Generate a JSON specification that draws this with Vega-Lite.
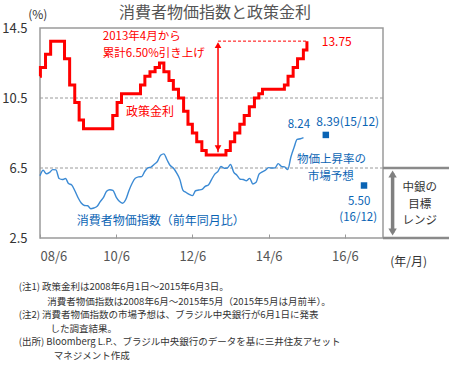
{
  "$schema": "https://vega.github.io/schema/vega-lite/v6.json",
  "width": 343,
  "height": 210,
  "autosize": {"type": "none"},
  "padding": {"left": 40, "top": 28, "right": 66, "bottom": 128},
  "background": "white",
  "config": {
    "view": {"stroke": "#9a9a9a", "strokeWidth": 1.5},
    "font": "Noto Sans CJK JP",
    "text": {"font": "Noto Sans CJK JP"}
  },
  "datasets": {
    "selic": [
      {"date": "2008-06-01", "rate": 11.75},
      {"date": "2008-06-05", "rate": 12.25},
      {"date": "2008-07-24", "rate": 13.0},
      {"date": "2008-09-11", "rate": 13.75},
      {"date": "2009-01-22", "rate": 12.75},
      {"date": "2009-03-12", "rate": 11.25},
      {"date": "2009-04-30", "rate": 10.25},
      {"date": "2009-06-11", "rate": 9.25},
      {"date": "2009-07-23", "rate": 8.75},
      {"date": "2010-04-29", "rate": 9.5},
      {"date": "2010-06-10", "rate": 10.25},
      {"date": "2010-07-22", "rate": 10.75},
      {"date": "2011-01-20", "rate": 11.25},
      {"date": "2011-03-03", "rate": 11.75},
      {"date": "2011-04-21", "rate": 12.0},
      {"date": "2011-06-09", "rate": 12.25},
      {"date": "2011-07-21", "rate": 12.5},
      {"date": "2011-09-01", "rate": 12.0},
      {"date": "2011-10-20", "rate": 11.5},
      {"date": "2011-12-01", "rate": 11.0},
      {"date": "2012-01-19", "rate": 10.5},
      {"date": "2012-03-08", "rate": 9.75},
      {"date": "2012-04-19", "rate": 9.0},
      {"date": "2012-05-31", "rate": 8.5},
      {"date": "2012-07-12", "rate": 8.0},
      {"date": "2012-08-30", "rate": 7.5},
      {"date": "2012-10-11", "rate": 7.25},
      {"date": "2013-04-18", "rate": 7.5},
      {"date": "2013-05-30", "rate": 8.0},
      {"date": "2013-07-11", "rate": 8.5},
      {"date": "2013-08-29", "rate": 9.0},
      {"date": "2013-10-10", "rate": 9.5},
      {"date": "2013-11-28", "rate": 10.0},
      {"date": "2014-01-16", "rate": 10.5},
      {"date": "2014-02-27", "rate": 10.75},
      {"date": "2014-04-03", "rate": 11.0},
      {"date": "2014-10-30", "rate": 11.25},
      {"date": "2014-12-04", "rate": 11.75},
      {"date": "2015-01-22", "rate": 12.25},
      {"date": "2015-03-05", "rate": 12.75},
      {"date": "2015-04-30", "rate": 13.25},
      {"date": "2015-06-03", "rate": 13.75}
    ],
    "cpi": [
      {"date": "2008-06-01", "v": 6.06}, {"date": "2008-07-01", "v": 6.37}, {"date": "2008-08-01", "v": 6.17}, {"date": "2008-09-01", "v": 6.25}, {"date": "2008-10-01", "v": 6.41}, {"date": "2008-11-01", "v": 6.39}, {"date": "2008-12-01", "v": 5.90},
      {"date": "2009-01-01", "v": 5.84}, {"date": "2009-02-01", "v": 5.90}, {"date": "2009-03-01", "v": 5.61}, {"date": "2009-04-01", "v": 5.53}, {"date": "2009-05-01", "v": 5.20}, {"date": "2009-06-01", "v": 4.80}, {"date": "2009-07-01", "v": 4.50}, {"date": "2009-08-01", "v": 4.36}, {"date": "2009-09-01", "v": 4.34}, {"date": "2009-10-01", "v": 4.17}, {"date": "2009-11-01", "v": 4.22}, {"date": "2009-12-01", "v": 4.31},
      {"date": "2010-01-01", "v": 4.59}, {"date": "2010-02-01", "v": 4.83}, {"date": "2010-03-01", "v": 5.17}, {"date": "2010-04-01", "v": 5.26}, {"date": "2010-05-01", "v": 5.22}, {"date": "2010-06-01", "v": 4.84}, {"date": "2010-07-01", "v": 4.60}, {"date": "2010-08-01", "v": 4.49}, {"date": "2010-09-01", "v": 4.70}, {"date": "2010-10-01", "v": 5.20}, {"date": "2010-11-01", "v": 5.63}, {"date": "2010-12-01", "v": 5.91},
      {"date": "2011-01-01", "v": 5.99}, {"date": "2011-02-01", "v": 6.01}, {"date": "2011-03-01", "v": 6.30}, {"date": "2011-04-01", "v": 6.51}, {"date": "2011-05-01", "v": 6.55}, {"date": "2011-06-01", "v": 6.71}, {"date": "2011-07-01", "v": 6.87}, {"date": "2011-08-01", "v": 7.23}, {"date": "2011-09-01", "v": 7.31}, {"date": "2011-10-01", "v": 6.97}, {"date": "2011-11-01", "v": 6.64}, {"date": "2011-12-01", "v": 6.50},
      {"date": "2012-01-01", "v": 6.22}, {"date": "2012-02-01", "v": 5.85}, {"date": "2012-03-01", "v": 5.24}, {"date": "2012-04-01", "v": 5.10}, {"date": "2012-05-01", "v": 4.99}, {"date": "2012-06-01", "v": 4.92}, {"date": "2012-07-01", "v": 5.20}, {"date": "2012-08-01", "v": 5.24}, {"date": "2012-09-01", "v": 5.28}, {"date": "2012-10-01", "v": 5.45}, {"date": "2012-11-01", "v": 5.53}, {"date": "2012-12-01", "v": 5.84},
      {"date": "2013-01-01", "v": 6.15}, {"date": "2013-02-01", "v": 6.31}, {"date": "2013-03-01", "v": 6.59}, {"date": "2013-04-01", "v": 6.49}, {"date": "2013-05-01", "v": 6.50}, {"date": "2013-06-01", "v": 6.70}, {"date": "2013-07-01", "v": 6.27}, {"date": "2013-08-01", "v": 6.09}, {"date": "2013-09-01", "v": 5.86}, {"date": "2013-10-01", "v": 5.84}, {"date": "2013-11-01", "v": 5.77}, {"date": "2013-12-01", "v": 5.91},
      {"date": "2014-01-01", "v": 5.59}, {"date": "2014-02-01", "v": 5.68}, {"date": "2014-03-01", "v": 6.15}, {"date": "2014-04-01", "v": 6.28}, {"date": "2014-05-01", "v": 6.37}, {"date": "2014-06-01", "v": 6.52}, {"date": "2014-07-01", "v": 6.50}, {"date": "2014-08-01", "v": 6.51}, {"date": "2014-09-01", "v": 6.75}, {"date": "2014-10-01", "v": 6.59}, {"date": "2014-11-01", "v": 6.56}, {"date": "2014-12-01", "v": 6.41},
      {"date": "2015-01-01", "v": 7.14}, {"date": "2015-02-01", "v": 7.70}, {"date": "2015-03-01", "v": 8.13}, {"date": "2015-04-01", "v": 8.17}, {"date": "2015-05-01", "v": 8.24}
    ]
  },
  "layer": [
    {
      "data": {"values": [{"v": 6.5}, {"v": 10.5}]},
      "mark": {"type": "rule", "color": "#9a9a9a", "strokeWidth": 1, "strokeDash": [3, 2]},
      "encoding": {
        "y": {"field": "v", "type": "quantitative", "scale": {"domain": [2.5, 14.5], "nice": false, "zero": false},
          "axis": {"values": [2.5, 6.5, 10.5, 14.5], "format": ".1f", "domain": false, "ticks": false, "grid": false, "title": null, "labelFontSize": 13, "labelColor": "#333333", "labelPadding": 13, "labelFont": "Noto Sans CJK JP"}}
      }
    },
    {
      "data": {"name": "cpi"},
      "mark": {"type": "line", "color": "#3b8ad4", "strokeWidth": 1.4, "interpolate": "monotone"},
      "encoding": {
        "x": {"field": "date", "type": "temporal",
          "scale": {"domain": [{"year": 2008, "month": 6, "date": 1}, {"year": 2017, "month": 6, "date": 1}], "nice": false},
          "axis": {"values": [{"year": 2008, "month": 6, "date": 1}, {"year": 2010, "month": 6, "date": 1}, {"year": 2012, "month": 6, "date": 1}, {"year": 2014, "month": 6, "date": 1}, {"year": 2016, "month": 6, "date": 1}],
            "format": "%y/%-m", "domain": false, "grid": false, "tickSize": -4, "tickColor": "#9a9a9a", "tickWidth": 1, "labelPadding": 16, "labelFontSize": 13, "labelColor": "#555555", "title": null, "labelFont": "Noto Sans CJK JP"}},
        "y": {"field": "v", "type": "quantitative"}
      }
    },
    {
      "data": {"name": "selic"},
      "mark": {"type": "line", "color": "#ff0000", "strokeWidth": 3, "interpolate": "step-after"},
      "encoding": {
        "x": {"field": "date", "type": "temporal"},
        "y": {"field": "rate", "type": "quantitative"}
      }
    },
    {
      "data": {"values": [{"d1": "2013-02-01", "d2": "2015-06-03", "v": 13.75}]},
      "mark": {"type": "rule", "color": "#ff0000", "strokeWidth": 1, "strokeDash": [3, 2]},
      "encoding": {
        "x": {"field": "d1", "type": "temporal"},
        "x2": {"field": "d2"},
        "y": {"field": "v", "type": "quantitative"}
      }
    },
    {
      "data": {"values": [{"d": "2013-02-01", "v1": 13.6, "v2": 7.4}]},
      "mark": {"type": "rule", "color": "#ff0000", "strokeWidth": 1.5},
      "encoding": {
        "x": {"field": "d", "type": "temporal"},
        "y": {"field": "v1", "type": "quantitative"},
        "y2": {"field": "v2"}
      }
    },
    {
      "data": {"values": [{"d": "2013-02-01", "v": 13.75}]},
      "mark": {"type": "point", "shape": "triangle-up", "filled": true, "color": "#ff0000", "size": 45, "opacity": 1, "yOffset": 4},
      "encoding": {"x": {"field": "d", "type": "temporal"}, "y": {"field": "v", "type": "quantitative"}}
    },
    {
      "data": {"values": [{"d": "2013-02-01", "v": 7.4}]},
      "mark": {"type": "point", "shape": "triangle-down", "filled": true, "color": "#ff0000", "size": 45, "opacity": 1, "yOffset": -4},
      "encoding": {"x": {"field": "d", "type": "temporal"}, "y": {"field": "v", "type": "quantitative"}}
    },
    {
      "data": {"values": [{"d": "2015-12-01", "v": 8.39}, {"d": "2016-12-01", "v": 5.5}]},
      "mark": {"type": "square", "filled": true, "color": "#0a64b4", "size": 42, "opacity": 1},
      "encoding": {"x": {"field": "d", "type": "temporal"}, "y": {"field": "v", "type": "quantitative"}}
    },
    {
      "data": {"values": [{"d1": "2017-06-01", "d2": "2019-04-01", "v": 6.5}, {"d1": "2017-06-01", "d2": "2019-04-01", "v": 2.5}]},
      "mark": {"type": "rule", "color": "#8a8a8a", "strokeWidth": 2.5},
      "encoding": {
        "x": {"field": "d1", "type": "temporal"},
        "x2": {"field": "d2"},
        "y": {"field": "v", "type": "quantitative"}
      }
    },
    {
      "data": {"values": [{"d": "2017-09-01", "v1": 6.2, "v2": 2.8}]},
      "mark": {"type": "rule", "color": "#808080", "strokeWidth": 3.5},
      "encoding": {
        "x": {"field": "d", "type": "temporal"},
        "y": {"field": "v1", "type": "quantitative"},
        "y2": {"field": "v2"}
      }
    },
    {
      "data": {"values": [{"d": "2017-09-01", "v": 6.5}]},
      "mark": {"type": "point", "shape": "triangle-up", "filled": true, "color": "#808080", "size": 70, "opacity": 1, "yOffset": 6},
      "encoding": {"x": {"field": "d", "type": "temporal"}, "y": {"field": "v", "type": "quantitative"}}
    },
    {
      "data": {"values": [{"d": "2017-09-01", "v": 2.5}]},
      "mark": {"type": "point", "shape": "triangle-down", "filled": true, "color": "#808080", "size": 70, "opacity": 1, "yOffset": -6},
      "encoding": {"x": {"field": "d", "type": "temporal"}, "y": {"field": "v", "type": "quantitative"}}
    },
    {
      "data": {"values": [{"d": "2013-01-03", "v": 15.38, "t": "消費者物価指数と政策金利"}]},
      "mark": {"type": "text", "color": "#555555", "fontSize": 16, "align": "center", "baseline": "middle"},
      "encoding": {"x": {"field": "d", "type": "temporal"}, "y": {"field": "v", "type": "quantitative"}, "text": {"field": "t"}}
    },
    {
      "data": {"values": [
        {"d": "2010-01-24", "v": 14.0, "t": "2013年4月から"},
        {"d": "2010-01-24", "v": 13.03, "t": "累計6.50%引き上げ"}
      ]},
      "mark": {"type": "text", "color": "#ff0000", "fontSize": 11.5, "align": "left", "baseline": "middle"},
      "encoding": {"x": {"field": "d", "type": "temporal"}, "y": {"field": "v", "type": "quantitative"}, "text": {"field": "t"}}
    },
    {
      "data": {"values": [
        {"d": "2016-03-15", "v": 13.7, "t": "13.75"},
        {"d": "2011-04-20", "v": 9.72, "t": "政策金利"}
      ]},
      "mark": {"type": "text", "color": "#ff0000", "fontSize": 12, "align": "center", "baseline": "middle"},
      "encoding": {"x": {"field": "d", "type": "temporal"}, "y": {"field": "v", "type": "quantitative"}, "text": {"field": "t"}}
    },
    {
      "data": {"values": [
        {"d": "2009-05-20", "v": 3.49, "t": "消費者物価指数（前年同月比）"},
        {"d": "2015-09-01", "v": 9.15, "t": "8.39(15/12)"}
      ]},
      "mark": {"type": "text", "color": "#0a64b4", "fontSize": 12, "align": "left", "baseline": "middle"},
      "encoding": {"x": {"field": "d", "type": "temporal"}, "y": {"field": "v", "type": "quantitative"}, "text": {"field": "t"}}
    },
    {
      "data": {"values": [
        {"d": "2015-02-28", "v": 6.95, "t": "物価上昇率の"},
        {"d": "2015-06-12", "v": 6.0, "t": "市場予想"}
      ]},
      "mark": {"type": "text", "color": "#0a64b4", "fontSize": 11.5, "align": "left", "baseline": "middle"},
      "encoding": {"x": {"field": "d", "type": "temporal"}, "y": {"field": "v", "type": "quantitative"}, "text": {"field": "t"}}
    },
    {
      "data": {"values": [
        {"d": "2015-03-18", "v": 8.97, "t": "8.24"},
        {"d": "2016-10-15", "v": 4.54, "t": "5.50"},
        {"d": "2016-10-06", "v": 3.64, "t": "(16/12)"}
      ]},
      "mark": {"type": "text", "color": "#0a64b4", "fontSize": 11.5, "align": "center", "baseline": "middle"},
      "encoding": {"x": {"field": "d", "type": "temporal"}, "y": {"field": "v", "type": "quantitative"}, "text": {"field": "t"}}
    },
    {
      "data": {"values": [
        {"d": "2018-05-20", "v": 5.34, "t": "中銀の"},
        {"d": "2018-05-20", "v": 4.40, "t": "目標"},
        {"d": "2018-05-20", "v": 3.46, "t": "レンジ"}
      ]},
      "mark": {"type": "text", "color": "#333333", "fontSize": 11.5, "align": "center", "baseline": "middle"},
      "encoding": {"x": {"field": "d", "type": "temporal"}, "y": {"field": "v", "type": "quantitative"}, "text": {"field": "t"}}
    },
    {
      "data": {"values": [
        {"d": "2018-02-01", "v": 1.15, "t": "(年/月)"},
        {"d": "2008-05-10", "v": 15.25, "t": "(%)"}
      ]},
      "mark": {"type": "text", "color": "#333333", "fontSize": 12, "align": "center", "baseline": "middle"},
      "encoding": {"x": {"field": "d", "type": "temporal"}, "y": {"field": "v", "type": "quantitative"}, "text": {"field": "t"}}
    },
    {
      "data": {"values": [
        {"d": "2007-11-10", "v": -0.28, "t": "(注1) 政策金利は2008年6月1日～2015年6月3日。"},
        {"d": "2008-08-10", "v": -1.14, "t": "消費者物価指数は2008年6月～2015年5月（2015年5月は月前半）。"},
        {"d": "2007-11-10", "v": -1.91, "t": "(注2) 消費者物価指数の市場予想は、ブラジル中央銀行が6月1日に発表"},
        {"d": "2008-09-10", "v": -2.70, "t": "した調査結果。"},
        {"d": "2007-11-10", "v": -3.45, "t": "(出所) Bloomberg L.P.、ブラジル中央銀行のデータを基に三井住友アセット"},
        {"d": "2008-10-10", "v": -4.23, "t": "マネジメント作成"}
      ]},
      "mark": {"type": "text", "color": "#333333", "fontSize": 9.5, "align": "left", "baseline": "middle"},
      "encoding": {"x": {"field": "d", "type": "temporal"}, "y": {"field": "v", "type": "quantitative"}, "text": {"field": "t"}}
    }
  ]
}
